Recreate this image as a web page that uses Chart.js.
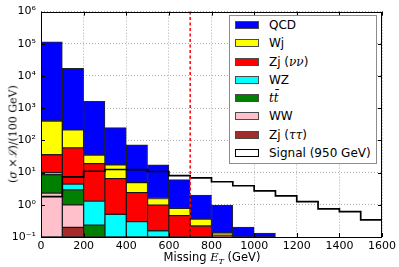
<!DOCTYPE html>
<html>
<head>
<meta charset="utf-8">
<script src="https://cdn.jsdelivr.net/npm/chart.js@4.4.0/dist/chart.umd.min.js"></script>
<style>
  html,body{margin:0;padding:0;background:#fff;}
  #wrap{position:relative;width:399px;height:267px;font-family:"DejaVu Sans",sans-serif;color:#000;}
  #c{position:absolute;left:0;top:0;}
  #legend{position:absolute;left:229px;top:15px;width:148px;height:149px;border:1px solid #8c8c8c;background:#fff;box-sizing:border-box;}
  .row{position:absolute;left:5px;height:18px;display:flex;align-items:center;font-size:12px;white-space:nowrap;}
  .sw{width:24px;height:8px;box-sizing:border-box;border:1px solid #4a4a4a;margin-right:10px;}
  .m{font-family:"DejaVu Serif",serif;font-style:italic;}
  #xtitle{position:absolute;left:41px;width:342px;top:250px;text-align:center;font-size:11.5px;}
  #ytitle{position:absolute;left:12px;top:134px;transform:translate(-50%,-50%) rotate(-90deg);font-family:"DejaVu Serif",serif;font-size:11px;white-space:nowrap;}
</style>
</head>
<body>
<div id="wrap">
  <canvas id="c" width="399" height="267"></canvas>
  <div id="legend"></div>
  <div id="ytitle">(<i>σ</i> ×<i>ℒ</i>)/(100 GeV)</div>
  <div id="xtitle">Missing <span class="m">E</span><sub class="m" style="font-size:8px">T</sub> (GeV)</div>
</div>
<script>
// bins of 100 GeV, 0 - 1600
const binCenters = [50,150,250,350,450,550,650,750,850,950,1050,1150,1250,1350,1450,1550];
const binEdges = [0,100,200,300,400,500,600,700,800,900,1000,1100,1200,1300,1400,1500,1600];

// background processes (per bin, stacked bottom -> top)
const zjTauTau = [0, 0.2, 0, 0, 0, 0, 0, 0, 0, 0, 0, 0, 0, 0, 0, 0];
const ww       = [2.3, 0.8, 0, 0, 0, 0, 0, 0, 0, 0, 0, 0, 0, 0, 0, 0];
const ttbar    = [6.3, 1.9, 0.233, 0, 0, 0, 0, 0, 0, 0, 0, 0, 0, 0, 0, 0];
const wz       = [1.3, 1.5, 1.07, 0.51, 0.30, 0.156, 0, 0, 0, 0, 0, 0, 0, 0, 0, 0];
const zjNuNu   = [26, 54, 17.7, 6.0, 2.1, 0.82, 0.46, 0.22, 0.115, 0, 0, 0, 0, 0, 0, 0];
const wj       = [364, 153, 16, 10.9, 2.5, 0.59, 0.32, 0.14, 0.018, 0, 0, 0, 0, 0, 0, 0];
const qcd      = [114600, 17100, 1605, 232, 68, 15.8, 5.3, 1.64, 0.85, 0.203, 0.133, 0, 0, 0, 0, 0];

const signal   = [1.8, 7.4, 11, 12.5, 12.3, 10.8, 8.0, 6.9, 5.2, 3.9, 2.7, 1.9, 1.26, 0.75, 0.61, 0.34];

const yTicks = [0.1, 1, 10, 100, 1000, 10000, 100000, 1000000];
const xTicks = [0,200,400,600,800,1000,1200,1400,1600];
const cutValue = 700;

const series = [
  {label:"Zj (<span class='m'>ττ</span>)", data:zjTauTau, color:"#a52a2a"},
  {label:"WW", data:ww, color:"#ffc0cb"},
  {label:"<span class='m'>t</span><span class='m'>t̄</span>", data:ttbar, color:"#008000"},
  {label:"WZ", data:wz, color:"#00ffff"},
  {label:"Zj (<span class='m'>νν</span>)", data:zjNuNu, color:"#ff0000"},
  {label:"Wj", data:wj, color:"#ffff00"},
  {label:"QCD", data:qcd, color:"#0000ff"}
];

const sup = {"-":"⁻","0":"⁰","1":"¹","2":"²","3":"³","4":"⁴","5":"⁵","6":"⁶","7":"⁷","8":"⁸","9":"⁹"};
function powLabel(v){
  const e = Math.round(Math.log10(v)).toString();
  return "10" + e.split("").map(ch=>sup[ch]).join("");
}

const datasets = series.map(s=>({
  type:"bar",
  label:s.label,
  data:binCenters.map((x,i)=>({x, y: s.data[i] || null})),
  backgroundColor:s.color,
  borderColor:"rgba(0,0,0,0.85)",
  borderWidth:1,
  borderSkipped:false,
  stack:"bg",
  barPercentage:1,
  categoryPercentage:1
}));

datasets.push({
  type:"line",
  label:"Signal (950 GeV)",
  data:binEdges.map((x,i)=>({x, y: signal[Math.min(i, signal.length-1)]})),
  borderColor:"#000",
  borderWidth:1.7,
  pointRadius:0,
  stepped:"before",
  fill:false,
  stack:"sig",
  order:-1
});

const framePlugin = {
  id:"frame",
  afterDraw(chart){
    const {ctx, chartArea:a, scales:{x, y}} = chart;
    ctx.save();
    // cut line
    const cx = x.getPixelForValue(cutValue);
    ctx.strokeStyle = "#ff0000";
    ctx.lineWidth = 1.5;
    ctx.setLineDash([3,2.5]);
    ctx.beginPath();
    ctx.moveTo(cx, a.top);
    ctx.lineTo(cx, a.bottom);
    ctx.stroke();
    ctx.setLineDash([]);
    // axes frame + inward ticks
    ctx.strokeStyle = "#000";
    ctx.lineWidth = 1;
    ctx.strokeRect(Math.round(a.left)+0.5, Math.round(a.top)+0.5, Math.round(a.right-a.left)-1, Math.round(a.bottom-a.top));
    ctx.beginPath();
    xTicks.forEach(v=>{
      const px = Math.round(x.getPixelForValue(v))+0.5;
      ctx.moveTo(px, a.bottom); ctx.lineTo(px, a.bottom-4);
      ctx.moveTo(px, a.top); ctx.lineTo(px, a.top+4);
    });
    yTicks.forEach(v=>{
      const py = Math.round(y.getPixelForValue(v))+0.5;
      ctx.moveTo(a.left, py); ctx.lineTo(a.left+4, py);
      ctx.moveTo(a.right, py); ctx.lineTo(a.right-4, py);
    });
    ctx.stroke();
    ctx.restore();
  }
};

new Chart(document.getElementById("c"), {
  type:"bar",
  data:{datasets},
  options:{
    responsive:false,
    animation:false,
    devicePixelRatio:1,
    layout:{padding:{top:9, right:16, left:0, bottom:0}},
    plugins:{legend:{display:false}, tooltip:{enabled:false}},
    scales:{
      x:{
        type:"linear", min:0, max:1600, offset:false, z:1,
        afterBuildTicks:s=>{ s.ticks = xTicks.map(v=>({value:v})); },
        afterFit:s=>{ s.height = 30; },
        grid:{offset:false, drawTicks:false, color:"rgba(0,0,0,0.4)", lineWidth:0.8},
        border:{display:false, dash:[1,2]},
        ticks:{padding:3, color:"#000", font:{family:"DejaVu Sans", size:11}, maxRotation:0, callback:v=>String(v)}
      },
      y:{
        type:"logarithmic", min:0.1, max:1000000, stacked:true, z:1,
        afterBuildTicks:s=>{ s.ticks = yTicks.map(v=>({value:v})); },
        afterFit:s=>{ s.width = 41; },
        grid:{drawTicks:false, color:"rgba(0,0,0,0.4)", lineWidth:0.8},
        border:{display:false, dash:[1,2]},
        ticks:{padding:5, color:"#000", font:{family:"DejaVu Sans", size:11}, callback:v=>powLabel(v)}
      }
    }
  },
  plugins:[framePlugin]
});

// legend (top -> bottom: reverse stack order, then signal)
const legend = document.getElementById("legend");
const items = series.slice().reverse().map(s=>({label:s.label, color:s.color, border:"#4a4a4a"}));
items.push({label:"Signal (950 GeV)", color:"#fff", border:"#000"});
items.forEach((it,i)=>{
  const row = document.createElement("div");
  row.className = "row";
  row.style.top = (10 + i*18.25 - 9 - 1) + "px";
  row.innerHTML = `<div class="sw" style="background:${it.color};border-color:${it.border};${it.color==="#fff"?"border-width:1.5px;":""}"></div><span>${it.label}</span>`;
  legend.appendChild(row);
});
</script>
</body>
</html>
